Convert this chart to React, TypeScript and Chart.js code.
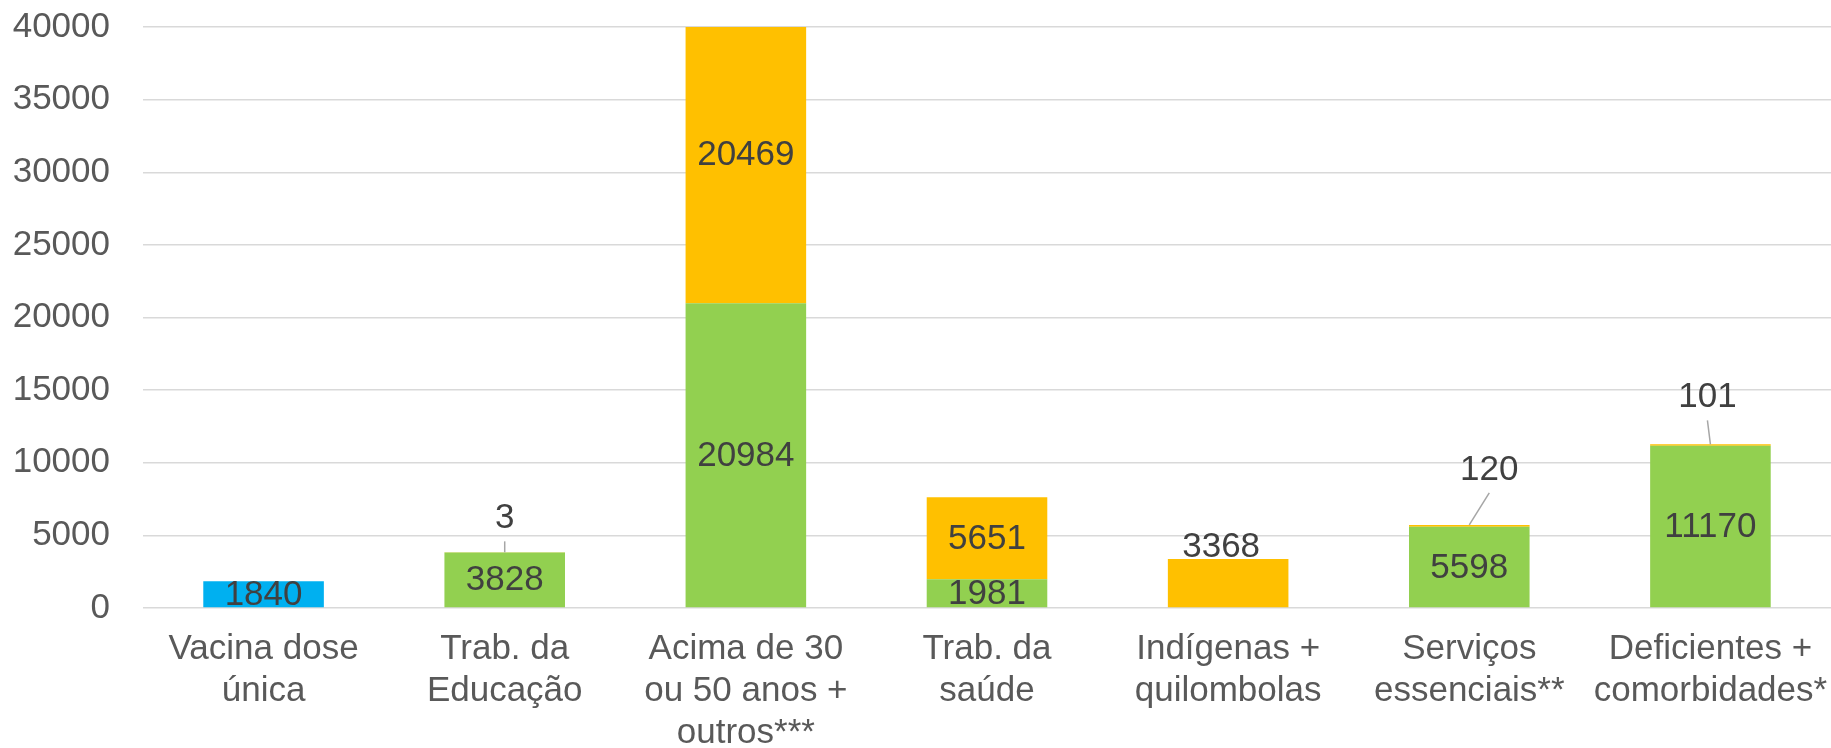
import React, { useEffect, useRef } from "react";
import { Chart, registerables } from "chart.js";

Chart.register(...registerables);

const categories: string[][] = [
  ["Vacina dose", "única"],
  ["Trab. da", "Educação"],
  ["Acima de 30", "ou 50 anos +", "outros***"],
  ["Trab. da", "saúde"],
  ["Indígenas +", "quilombolas"],
  ["Serviços", "essenciais**"],
  ["Deficientes +", "comorbidades*"],
];

const doseUnica: (number | null)[] = [1840, null, null, null, null, null, null];
const primeiraDose: (number | null)[] = [null, 3828, 20984, 1981, null, 5598, 11170];
const segundaDose: (number | null)[] = [null, 3, 20469, 5651, 3368, 120, 101];

const yTicks: number[] = [0, 5000, 10000, 15000, 20000, 25000, 30000, 35000, 40000];

const FONT = '"Liberation Sans", Arial, sans-serif';
const LABEL_COLOR = "#404040";

// style: callout placement for small segments (dataset 2 only), [dx, dy] from bar top centre
const CALLOUTS: Record<number, [number, number]> = {
  1: [0, -34],
  5: [20, -55],
  6: [-3, -47],
};
const ABOVE: Record<number, [number, number]> = { 4: [-7, -12] };

const labelPlugin = {
  id: "valueLabels",
  afterDatasetsDraw(chart: any) {
    const ctx = chart.ctx;
    ctx.save();
    ctx.font = `35px ${FONT}`;
    ctx.fillStyle = LABEL_COLOR;
    ctx.textAlign = "center";
    ctx.textBaseline = "middle";
    chart.data.datasets.forEach((ds: any, di: number) => {
      const meta = chart.getDatasetMeta(di);
      meta.data.forEach((el: any, i: number) => {
        const v = ds.data[i];
        if (v === null || v === undefined) return;
        const { x, y, base } = el.getProps(["x", "y", "base"], true);
        const txt = String(v);
        if (di === 2 && CALLOUTS[i]) {
          const [dx, dy] = CALLOUTS[i];
          const lx = x + dx;
          const ly = y + dy;
          ctx.strokeStyle = "#A6A6A6";
          ctx.lineWidth = 1.5;
          ctx.beginPath();
          ctx.moveTo(x, y);
          ctx.lineTo(lx, ly + 23);
          ctx.stroke();
          ctx.fillText(txt, lx, ly);
        } else if (di === 2 && ABOVE[i] !== undefined) {
          const [dx, dy] = ABOVE[i];
          ctx.fillText(txt, x + dx, y + dy);
        } else {
          ctx.fillText(txt, x, (y + base) / 2 + 1);
        }
      });
    });
    ctx.restore();
  },
};

export default function App() {
  const ref = useRef<HTMLCanvasElement | null>(null);
  useEffect(() => {
    if (!ref.current) return;
    const chart = new Chart(ref.current, {
      type: "bar",
      data: {
        labels: categories,
        datasets: [
          { label: "Dose única", data: doseUnica, backgroundColor: "#00B0F0" },
          { label: "1ª dose", data: primeiraDose, backgroundColor: "#92D050" },
          { label: "2ª dose", data: segundaDose, backgroundColor: "#FFC000" },
        ],
      },
      options: {
        responsive: false,
        animation: false,
        events: [],
        datasets: { bar: { categoryPercentage: 1, barPercentage: 0.5 } },
        layout: { padding: { top: 27, left: 0, right: 0, bottom: 0 } },
        plugins: { legend: { display: false }, tooltip: { enabled: false } },
        scales: {
          x: {
            stacked: true,
            grid: { display: false, drawTicks: false },
            border: { display: false },
            ticks: {
              color: "#595959",
              font: { family: FONT, size: 35, lineHeight: 1.19 },
              padding: 21,
              maxRotation: 0,
              minRotation: 0,
              autoSkip: false,
            },
            afterFit: (s: any) => {
              s.height = 140;
              s.paddingLeft = 0;
              s.paddingRight = 0;
            },
          },
          y: {
            stacked: true,
            min: 0,
            max: 40000,
            afterBuildTicks: (s: any) => {
              s.ticks = yTicks.map((v) => ({ value: v }));
            },
            grid: { color: "#D9D9D9", lineWidth: 1.5, drawTicks: false },
            border: { display: false },
            ticks: {
              color: "#595959",
              font: { family: FONT, size: 35 },
              padding: 33,
              callback: (v: any) => String(v),
            },
            afterFit: (s: any) => {
              s.width = 143;
              s.paddingTop = 0;
              s.paddingBottom = 0;
            },
          },
        },
      },
      plugins: [labelPlugin],
    });
    return () => chart.destroy();
  }, []);
  return (
    <div style={{ position: "fixed", left: 0, top: 0, width: 1831, height: 748, background: "#fff" }}>
      <canvas ref={ref} width={1831} height={748} style={{ display: "block" }} />
    </div>
  );
}
